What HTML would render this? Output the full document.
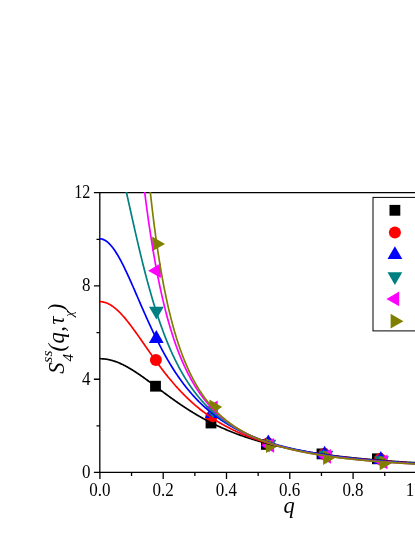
<!DOCTYPE html>
<html><head><meta charset="utf-8"><title>S4 plot</title>
<style>
html,body{margin:0;padding:0;background:#fff;}
body{width:415px;height:537px;overflow:hidden;}
svg{display:block;}
text{font-family:"Liberation Serif",serif;fill:#000;}
.tk{font-size:17px;}
.it{font-style:italic;}
</style></head><body>
<svg width="415" height="537" viewBox="0 0 415 537">
<rect width="415" height="537" fill="#fff"/>
<defs><clipPath id="pc"><rect x="99.6" y="192.1" width="320" height="280.4"/></clipPath></defs>

<path d="M99.80,192.7 V472.5 M93.9,472.35 H416 M93.9,192.7 H416 M93.9,379.23 H99.9 M93.9,285.97 H99.9 M96.5,425.87 H99.9 M96.5,332.60 H99.9 M96.5,239.33 H99.9 M99.90,472.5 V478.9 M131.55,472.5 V476.0 M163.20,472.5 V478.9 M194.85,472.5 V476.0 M226.50,472.5 V478.9 M258.15,472.5 V476.0 M289.80,472.5 V478.9 M321.45,472.5 V476.0 M353.10,472.5 V478.9 M384.75,472.5 V476.0 M416.40,472.5 V478.9" fill="none" stroke="#000" stroke-width="1.3"/>
<g clip-path="url(#pc)">
<rect x="150.10" y="380.80" width="10.8" height="10.8" fill="#000000"/>
<rect x="205.60" y="417.60" width="10.8" height="10.8" fill="#000000"/>
<rect x="261.00" y="439.00" width="10.8" height="10.8" fill="#000000"/>
<rect x="316.60" y="448.50" width="10.8" height="10.8" fill="#000000"/>
<rect x="372.00" y="453.40" width="10.8" height="10.8" fill="#000000"/>
<circle cx="155.90" cy="360.10" r="6.0" fill="#ff0000"/>
<circle cx="211.30" cy="416.80" r="6.0" fill="#ff0000"/>
<circle cx="268.00" cy="443.30" r="6.0" fill="#ff0000"/>
<circle cx="324.20" cy="454.00" r="6.0" fill="#ff0000"/>
<circle cx="380.20" cy="459.00" r="6.0" fill="#ff0000"/>
<polygon points="156.30,330.10 148.90,342.90 163.70,342.90" fill="#0000ff"/>
<polygon points="212.30,405.20 204.90,418.00 219.70,418.00" fill="#0000ff"/>
<polygon points="268.30,434.50 260.90,447.30 275.70,447.30" fill="#0000ff"/>
<polygon points="324.60,445.70 317.20,458.50 332.00,458.50" fill="#0000ff"/>
<polygon points="380.80,451.10 373.40,463.90 388.20,463.90" fill="#0000ff"/>
<polygon points="156.40,319.50 149.00,306.70 163.80,306.70" fill="#008080"/>
<polygon points="212.90,419.00 205.50,406.20 220.30,406.20" fill="#008080"/>
<polygon points="269.00,452.50 261.60,439.70 276.40,439.70" fill="#008080"/>
<polygon points="326.10,463.50 318.70,450.70 333.50,450.70" fill="#008080"/>
<polygon points="381.60,469.00 374.20,456.20 389.00,456.20" fill="#008080"/>
<polygon points="148.10,270.70 160.90,263.30 160.90,278.10" fill="#ff00ff"/>
<polygon points="204.90,408.00 217.70,400.60 217.70,415.40" fill="#ff00ff"/>
<polygon points="261.30,445.40 274.10,438.00 274.10,452.80" fill="#ff00ff"/>
<polygon points="318.20,456.30 331.00,448.90 331.00,463.70" fill="#ff00ff"/>
<polygon points="374.70,461.90 387.50,454.50 387.50,469.30" fill="#ff00ff"/>
<polygon points="165.00,243.90 152.20,236.50 152.20,251.30" fill="#808000"/>
<polygon points="222.20,406.90 209.40,399.50 209.40,414.30" fill="#808000"/>
<polygon points="278.80,445.60 266.00,438.20 266.00,453.00" fill="#808000"/>
<polygon points="335.90,457.50 323.10,450.10 323.10,464.90" fill="#808000"/>
<polygon points="392.50,462.80 379.70,455.40 379.70,470.20" fill="#808000"/>
<path d="M99.70,358.71 L100.34,358.72 L100.97,358.73 L101.61,358.76 L102.24,358.79 L102.88,358.83 L103.51,358.88 L104.15,358.95 L104.78,359.02 L105.42,359.10 L106.05,359.19 L106.69,359.28 L107.32,359.39 L107.96,359.51 L108.59,359.63 L109.23,359.77 L109.86,359.91 L110.50,360.06 L111.13,360.23 L111.77,360.40 L112.41,360.57 L113.04,360.76 L113.68,360.96 L114.31,361.16 L114.95,361.37 L115.58,361.59 L116.22,361.82 L116.85,362.06 L117.49,362.30 L118.12,362.55 L118.76,362.81 L119.39,363.08 L120.03,363.36 L120.66,363.64 L121.30,363.93 L121.93,364.22 L122.57,364.53 L123.21,364.84 L123.84,365.15 L124.48,365.48 L125.11,365.81 L125.75,366.14 L126.38,366.48 L127.02,366.83 L127.65,367.18 L128.29,367.54 L128.92,367.91 L129.56,368.28 L130.19,368.65 L130.83,369.03 L131.46,369.42 L132.10,369.81 L132.73,370.21 L133.37,370.61 L134.00,371.01 L134.64,371.42 L135.28,371.83 L135.91,372.25 L136.55,372.67 L137.18,373.09 L137.82,373.52 L138.45,373.95 L139.09,374.39 L139.72,374.82 L140.36,375.26 L140.99,375.71 L141.63,376.15 L142.26,376.60 L142.90,377.05 L143.53,377.51 L144.17,377.97 L144.80,378.42 L145.44,378.88 L146.07,379.35 L146.71,379.81 L147.35,380.28 L147.98,380.74 L148.62,381.21 L149.25,381.68 L149.89,382.15 L150.52,382.62 L151.16,383.10 L151.79,383.57 L152.43,384.05 L153.06,384.52 L153.70,385.00 L154.33,385.47 L154.97,385.95 L155.60,386.43 L156.24,386.90 L156.87,387.38 L157.51,387.86 L158.14,388.34 L158.78,388.81 L159.42,389.29 L160.05,389.76 L160.69,390.24 L161.32,390.72 L161.96,391.19 L162.59,391.66 L163.23,392.14 L163.86,392.61 L164.50,393.08 L165.13,393.55 L165.77,394.02 L166.40,394.49 L167.04,394.96 L167.67,395.42 L168.31,395.89 L168.94,396.35 L169.58,396.82 L170.22,397.28 L170.85,397.74 L171.49,398.19 L172.12,398.65 L172.76,399.10 L173.39,399.56 L174.03,400.01 L174.66,400.46 L175.30,400.91 L175.93,401.35 L176.57,401.80 L177.20,402.24 L177.84,402.68 L178.47,403.12 L179.11,403.56 L179.74,403.99 L180.38,404.42 L181.01,404.85 L181.65,405.28 L182.29,405.71 L182.92,406.13 L183.56,406.56 L184.19,406.98 L184.83,407.39 L185.46,407.81 L186.10,408.22 L186.73,408.64 L187.37,409.04 L188.00,409.45 L188.64,409.86 L189.27,410.26 L189.91,410.66 L190.54,411.06 L191.18,411.45 L191.81,411.84 L192.45,412.24 L193.08,412.62 L193.72,413.01 L194.36,413.39 L194.99,413.78 L195.63,414.15 L196.26,414.53 L196.90,414.91 L197.53,415.28 L198.17,415.65 L198.80,416.01 L199.44,416.38 L200.07,416.74 L200.71,417.10 L201.34,417.46 L201.98,417.81 L202.61,418.17 L203.25,418.52 L203.88,418.87 L204.52,419.21 L205.15,419.56 L205.79,419.90 L206.43,420.24 L207.06,420.57 L207.70,420.91 L208.33,421.24 L208.97,421.57 L209.60,421.90 L210.24,422.22 L210.87,422.55 L211.51,422.87 L212.14,423.18 L212.78,423.50 L213.41,423.81 L214.05,424.13 L214.68,424.44 L215.32,424.74 L215.95,425.05 L216.59,425.35 L217.23,425.65 L217.86,425.95 L218.50,426.25 L219.13,426.54 L219.77,426.83 L220.40,427.12 L221.04,427.41 L221.67,427.70 L222.31,427.98 L222.94,428.26 L223.58,428.54 L224.21,428.82 L224.85,429.09 L225.48,429.37 L226.12,429.64 L226.75,429.91 L227.39,430.17 L228.02,430.44 L228.66,430.70 L229.30,430.96 L229.93,431.22 L230.57,431.48 L231.20,431.73 L231.84,431.99 L232.47,432.24 L233.11,432.49 L233.74,432.74 L234.38,432.98 L235.01,433.23 L235.65,433.47 L236.28,433.71 L236.92,433.95 L237.55,434.18 L238.19,434.42 L238.82,434.65 L239.46,434.88 L240.09,435.11 L240.73,435.34 L241.37,435.57 L242.00,435.79 L242.64,436.02 L243.27,436.24 L243.91,436.46 L244.54,436.67 L245.18,436.89 L245.81,437.11 L246.45,437.32 L247.08,437.53 L247.72,437.74 L248.35,437.95 L248.99,438.15 L249.62,438.36 L250.26,438.56 L250.89,438.76 L251.53,438.97 L252.16,439.16 L252.80,439.36 L253.44,439.56 L254.07,439.75 L254.71,439.94 L255.34,440.14 L255.98,440.33 L256.61,440.52 L257.25,440.70 L257.88,440.89 L258.52,441.07 L259.15,441.26 L259.79,441.44 L260.42,441.62 L261.06,441.80 L261.69,441.97 L262.33,442.15 L262.96,442.33 L263.60,442.50 L264.24,442.67 L264.87,442.84 L265.51,443.01 L266.14,443.18 L266.78,443.35 L267.41,443.51 L268.05,443.68 L268.68,443.84 L269.32,444.00 L269.95,444.17 L270.59,444.33 L271.22,444.48 L271.86,444.64 L272.49,444.80 L273.13,444.95 L273.76,445.11 L274.40,445.26 L275.03,445.41 L275.67,445.56 L276.31,445.71 L276.94,445.86 L277.58,446.01 L278.21,446.16 L278.85,446.30 L279.48,446.45 L280.12,446.59 L280.75,446.73 L281.39,446.87 L282.02,447.01 L282.66,447.15 L283.29,447.29 L283.93,447.43 L284.56,447.56 L285.20,447.70 L285.83,447.83 L286.47,447.96 L287.10,448.10 L287.74,448.23 L288.38,448.36 L289.01,448.49 L289.65,448.62 L290.28,448.74 L290.92,448.87 L291.55,449.00 L292.19,449.12 L292.82,449.24 L293.46,449.37 L294.09,449.49 L294.73,449.61 L295.36,449.73 L296.00,449.85 L296.63,449.97 L297.27,450.09 L297.90,450.20 L298.54,450.32 L299.17,450.44 L299.81,450.55 L300.45,450.66 L301.08,450.78 L301.72,450.89 L302.35,451.00 L302.99,451.11 L303.62,451.22 L304.26,451.33 L304.89,451.44 L305.53,451.55 L306.16,451.65 L306.80,451.76 L307.43,451.86 L308.07,451.97 L308.70,452.07 L309.34,452.18 L309.97,452.28 L310.61,452.38 L311.25,452.48 L311.88,452.58 L312.52,452.68 L313.15,452.78 L313.79,452.88 L314.42,452.98 L315.06,453.07 L315.69,453.17 L316.33,453.27 L316.96,453.36 L317.60,453.46 L318.23,453.55 L318.87,453.64 L319.50,453.74 L320.14,453.83 L320.77,453.92 L321.41,454.01 L322.04,454.10 L322.68,454.19 L323.32,454.28 L323.95,454.37 L324.59,454.45 L325.22,454.54 L325.86,454.63 L326.49,454.71 L327.13,454.80 L327.76,454.88 L328.40,454.97 L329.03,455.05 L329.67,455.13 L330.30,455.22 L330.94,455.30 L331.57,455.38 L332.21,455.46 L332.84,455.54 L333.48,455.62 L334.11,455.70 L334.75,455.78 L335.39,455.86 L336.02,455.94 L336.66,456.01 L337.29,456.09 L337.93,456.17 L338.56,456.24 L339.20,456.32 L339.83,456.39 L340.47,456.47 L341.10,456.54 L341.74,456.62 L342.37,456.69 L343.01,456.76 L343.64,456.83 L344.28,456.91 L344.91,456.98 L345.55,457.05 L346.18,457.12 L346.82,457.19 L347.46,457.26 L348.09,457.33 L348.73,457.40 L349.36,457.46 L350.00,457.53 L350.63,457.60 L351.27,457.67 L351.90,457.73 L352.54,457.80 L353.17,457.86 L353.81,457.93 L354.44,457.99 L355.08,458.06 L355.71,458.12 L356.35,458.19 L356.98,458.25 L357.62,458.31 L358.26,458.38 L358.89,458.44 L359.53,458.50 L360.16,458.56 L360.80,458.62 L361.43,458.68 L362.07,458.74 L362.70,458.80 L363.34,458.86 L363.97,458.92 L364.61,458.98 L365.24,459.04 L365.88,459.10 L366.51,459.15 L367.15,459.21 L367.78,459.27 L368.42,459.33 L369.05,459.38 L369.69,459.44 L370.33,459.49 L370.96,459.55 L371.60,459.60 L372.23,459.66 L372.87,459.71 L373.50,459.77 L374.14,459.82 L374.77,459.87 L375.41,459.93 L376.04,459.98 L376.68,460.03 L377.31,460.09 L377.95,460.14 L378.58,460.19 L379.22,460.24 L379.85,460.29 L380.49,460.34 L381.12,460.39 L381.76,460.44 L382.40,460.49 L383.03,460.54 L383.67,460.59 L384.30,460.64 L384.94,460.69 L385.57,460.74 L386.21,460.79 L386.84,460.83 L387.48,460.88 L388.11,460.93 L388.75,460.98 L389.38,461.02 L390.02,461.07 L390.65,461.12 L391.29,461.16 L391.92,461.21 L392.56,461.25 L393.19,461.30 L393.83,461.34 L394.47,461.39 L395.10,461.43 L395.74,461.48 L396.37,461.52 L397.01,461.56 L397.64,461.61 L398.28,461.65 L398.91,461.69 L399.55,461.74 L400.18,461.78 L400.82,461.82 L401.45,461.86 L402.09,461.91 L402.72,461.95 L403.36,461.99 L403.99,462.03 L404.63,462.07 L405.27,462.11 L405.90,462.15 L406.54,462.19 L407.17,462.23 L407.81,462.27 L408.44,462.31 L409.08,462.35 L409.71,462.39 L410.35,462.43 L410.98,462.47 L411.62,462.51 L412.25,462.54 L412.89,462.58 L413.52,462.62 L414.16,462.66 L414.79,462.70 L415.43,462.73 L416.06,462.77 L416.70,462.81" fill="none" stroke="#000000" stroke-width="1.7" stroke-linejoin="round"/>
<path d="M99.70,301.66 L100.34,301.67 L100.97,301.71 L101.61,301.76 L102.24,301.84 L102.88,301.95 L103.51,302.08 L104.15,302.23 L104.78,302.40 L105.42,302.59 L106.05,302.81 L106.69,303.05 L107.32,303.31 L107.96,303.60 L108.59,303.90 L109.23,304.23 L109.86,304.58 L110.50,304.95 L111.13,305.33 L111.77,305.74 L112.41,306.17 L113.04,306.62 L113.68,307.09 L114.31,307.58 L114.95,308.09 L115.58,308.61 L116.22,309.15 L116.85,309.71 L117.49,310.29 L118.12,310.88 L118.76,311.49 L119.39,312.12 L120.03,312.76 L120.66,313.42 L121.30,314.09 L121.93,314.77 L122.57,315.47 L123.21,316.19 L123.84,316.91 L124.48,317.65 L125.11,318.40 L125.75,319.16 L126.38,319.93 L127.02,320.71 L127.65,321.50 L128.29,322.31 L128.92,323.12 L129.56,323.94 L130.19,324.77 L130.83,325.60 L131.46,326.45 L132.10,327.30 L132.73,328.16 L133.37,329.02 L134.00,329.89 L134.64,330.77 L135.28,331.65 L135.91,332.54 L136.55,333.43 L137.18,334.32 L137.82,335.22 L138.45,336.12 L139.09,337.02 L139.72,337.93 L140.36,338.84 L140.99,339.75 L141.63,340.66 L142.26,341.57 L142.90,342.49 L143.53,343.40 L144.17,344.32 L144.80,345.23 L145.44,346.15 L146.07,347.06 L146.71,347.98 L147.35,348.89 L147.98,349.80 L148.62,350.71 L149.25,351.62 L149.89,352.52 L150.52,353.43 L151.16,354.33 L151.79,355.23 L152.43,356.13 L153.06,357.02 L153.70,357.91 L154.33,358.80 L154.97,359.68 L155.60,360.56 L156.24,361.44 L156.87,362.31 L157.51,363.18 L158.14,364.04 L158.78,364.90 L159.42,365.76 L160.05,366.61 L160.69,367.45 L161.32,368.29 L161.96,369.13 L162.59,369.96 L163.23,370.79 L163.86,371.61 L164.50,372.43 L165.13,373.24 L165.77,374.05 L166.40,374.85 L167.04,375.64 L167.67,376.43 L168.31,377.22 L168.94,377.99 L169.58,378.77 L170.22,379.54 L170.85,380.30 L171.49,381.05 L172.12,381.80 L172.76,382.55 L173.39,383.29 L174.03,384.02 L174.66,384.75 L175.30,385.47 L175.93,386.19 L176.57,386.90 L177.20,387.60 L177.84,388.30 L178.47,388.99 L179.11,389.68 L179.74,390.36 L180.38,391.04 L181.01,391.71 L181.65,392.37 L182.29,393.03 L182.92,393.68 L183.56,394.33 L184.19,394.97 L184.83,395.61 L185.46,396.24 L186.10,396.86 L186.73,397.48 L187.37,398.09 L188.00,398.70 L188.64,399.30 L189.27,399.90 L189.91,400.49 L190.54,401.08 L191.18,401.66 L191.81,402.23 L192.45,402.80 L193.08,403.37 L193.72,403.92 L194.36,404.48 L194.99,405.03 L195.63,405.57 L196.26,406.11 L196.90,406.64 L197.53,407.17 L198.17,407.69 L198.80,408.21 L199.44,408.73 L200.07,409.23 L200.71,409.74 L201.34,410.24 L201.98,410.73 L202.61,411.22 L203.25,411.70 L203.88,412.18 L204.52,412.66 L205.15,413.13 L205.79,413.60 L206.43,414.06 L207.06,414.52 L207.70,414.97 L208.33,415.42 L208.97,415.86 L209.60,416.30 L210.24,416.74 L210.87,417.17 L211.51,417.60 L212.14,418.02 L212.78,418.44 L213.41,418.85 L214.05,419.26 L214.68,419.67 L215.32,420.08 L215.95,420.47 L216.59,420.87 L217.23,421.26 L217.86,421.65 L218.50,422.03 L219.13,422.41 L219.77,422.79 L220.40,423.16 L221.04,423.53 L221.67,423.90 L222.31,424.26 L222.94,424.62 L223.58,424.98 L224.21,425.33 L224.85,425.68 L225.48,426.02 L226.12,426.36 L226.75,426.70 L227.39,427.04 L228.02,427.37 L228.66,427.70 L229.30,428.03 L229.93,428.35 L230.57,428.67 L231.20,428.98 L231.84,429.30 L232.47,429.61 L233.11,429.92 L233.74,430.22 L234.38,430.52 L235.01,430.82 L235.65,431.12 L236.28,431.41 L236.92,431.70 L237.55,431.99 L238.19,432.28 L238.82,432.56 L239.46,432.84 L240.09,433.12 L240.73,433.39 L241.37,433.66 L242.00,433.93 L242.64,434.20 L243.27,434.47 L243.91,434.73 L244.54,434.99 L245.18,435.25 L245.81,435.50 L246.45,435.75 L247.08,436.00 L247.72,436.25 L248.35,436.50 L248.99,436.74 L249.62,436.98 L250.26,437.22 L250.89,437.46 L251.53,437.69 L252.16,437.93 L252.80,438.16 L253.44,438.39 L254.07,438.61 L254.71,438.84 L255.34,439.06 L255.98,439.28 L256.61,439.50 L257.25,439.72 L257.88,439.93 L258.52,440.14 L259.15,440.35 L259.79,440.56 L260.42,440.77 L261.06,440.97 L261.69,441.18 L262.33,441.38 L262.96,441.58 L263.60,441.78 L264.24,441.97 L264.87,442.17 L265.51,442.36 L266.14,442.55 L266.78,442.74 L267.41,442.93 L268.05,443.12 L268.68,443.30 L269.32,443.48 L269.95,443.66 L270.59,443.84 L271.22,444.02 L271.86,444.20 L272.49,444.37 L273.13,444.55 L273.76,444.72 L274.40,444.89 L275.03,445.06 L275.67,445.23 L276.31,445.40 L276.94,445.56 L277.58,445.72 L278.21,445.89 L278.85,446.05 L279.48,446.21 L280.12,446.37 L280.75,446.52 L281.39,446.68 L282.02,446.83 L282.66,446.99 L283.29,447.14 L283.93,447.29 L284.56,447.44 L285.20,447.59 L285.83,447.73 L286.47,447.88 L287.10,448.02 L287.74,448.17 L288.38,448.31 L289.01,448.45 L289.65,448.59 L290.28,448.73 L290.92,448.87 L291.55,449.00 L292.19,449.14 L292.82,449.27 L293.46,449.41 L294.09,449.54 L294.73,449.67 L295.36,449.80 L296.00,449.93 L296.63,450.06 L297.27,450.18 L297.90,450.31 L298.54,450.43 L299.17,450.56 L299.81,450.68 L300.45,450.80 L301.08,450.92 L301.72,451.04 L302.35,451.16 L302.99,451.28 L303.62,451.40 L304.26,451.52 L304.89,451.63 L305.53,451.75 L306.16,451.86 L306.80,451.97 L307.43,452.08 L308.07,452.20 L308.70,452.31 L309.34,452.42 L309.97,452.52 L310.61,452.63 L311.25,452.74 L311.88,452.84 L312.52,452.95 L313.15,453.05 L313.79,453.16 L314.42,453.26 L315.06,453.36 L315.69,453.47 L316.33,453.57 L316.96,453.67 L317.60,453.77 L318.23,453.86 L318.87,453.96 L319.50,454.06 L320.14,454.15 L320.77,454.25 L321.41,454.35 L322.04,454.44 L322.68,454.53 L323.32,454.63 L323.95,454.72 L324.59,454.81 L325.22,454.90 L325.86,454.99 L326.49,455.08 L327.13,455.17 L327.76,455.26 L328.40,455.34 L329.03,455.43 L329.67,455.52 L330.30,455.60 L330.94,455.69 L331.57,455.77 L332.21,455.86 L332.84,455.94 L333.48,456.02 L334.11,456.11 L334.75,456.19 L335.39,456.27 L336.02,456.35 L336.66,456.43 L337.29,456.51 L337.93,456.59 L338.56,456.66 L339.20,456.74 L339.83,456.82 L340.47,456.90 L341.10,456.97 L341.74,457.05 L342.37,457.12 L343.01,457.20 L343.64,457.27 L344.28,457.34 L344.91,457.42 L345.55,457.49 L346.18,457.56 L346.82,457.63 L347.46,457.70 L348.09,457.78 L348.73,457.85 L349.36,457.91 L350.00,457.98 L350.63,458.05 L351.27,458.12 L351.90,458.19 L352.54,458.26 L353.17,458.32 L353.81,458.39 L354.44,458.46 L355.08,458.52 L355.71,458.59 L356.35,458.65 L356.98,458.71 L357.62,458.78 L358.26,458.84 L358.89,458.90 L359.53,458.97 L360.16,459.03 L360.80,459.09 L361.43,459.15 L362.07,459.21 L362.70,459.27 L363.34,459.33 L363.97,459.39 L364.61,459.45 L365.24,459.51 L365.88,459.57 L366.51,459.63 L367.15,459.69 L367.78,459.74 L368.42,459.80 L369.05,459.86 L369.69,459.91 L370.33,459.97 L370.96,460.03 L371.60,460.08 L372.23,460.14 L372.87,460.19 L373.50,460.25 L374.14,460.30 L374.77,460.35 L375.41,460.41 L376.04,460.46 L376.68,460.51 L377.31,460.56 L377.95,460.62 L378.58,460.67 L379.22,460.72 L379.85,460.77 L380.49,460.82 L381.12,460.87 L381.76,460.92 L382.40,460.97 L383.03,461.02 L383.67,461.07 L384.30,461.12 L384.94,461.17 L385.57,461.22 L386.21,461.26 L386.84,461.31 L387.48,461.36 L388.11,461.41 L388.75,461.45 L389.38,461.50 L390.02,461.55 L390.65,461.59 L391.29,461.64 L391.92,461.68 L392.56,461.73 L393.19,461.77 L393.83,461.82 L394.47,461.86 L395.10,461.91 L395.74,461.95 L396.37,461.99 L397.01,462.04 L397.64,462.08 L398.28,462.12 L398.91,462.17 L399.55,462.21 L400.18,462.25 L400.82,462.29 L401.45,462.33 L402.09,462.38 L402.72,462.42 L403.36,462.46 L403.99,462.50 L404.63,462.54 L405.27,462.58 L405.90,462.62 L406.54,462.66 L407.17,462.70 L407.81,462.74 L408.44,462.78 L409.08,462.82 L409.71,462.85 L410.35,462.89 L410.98,462.93 L411.62,462.97 L412.25,463.01 L412.89,463.04 L413.52,463.08 L414.16,463.12 L414.79,463.16 L415.43,463.19 L416.06,463.23 L416.70,463.27" fill="none" stroke="#ff0000" stroke-width="1.7" stroke-linejoin="round"/>
<path d="M99.70,238.82 L100.34,238.84 L100.97,238.91 L101.61,239.02 L102.24,239.17 L102.88,239.37 L103.51,239.60 L104.15,239.89 L104.78,240.21 L105.42,240.58 L106.05,240.99 L106.69,241.44 L107.32,241.93 L107.96,242.46 L108.59,243.03 L109.23,243.64 L109.86,244.29 L110.50,244.97 L111.13,245.70 L111.77,246.46 L112.41,247.25 L113.04,248.08 L113.68,248.95 L114.31,249.84 L114.95,250.77 L115.58,251.73 L116.22,252.72 L116.85,253.75 L117.49,254.79 L118.12,255.87 L118.76,256.98 L119.39,258.10 L120.03,259.26 L120.66,260.44 L121.30,261.64 L121.93,262.86 L122.57,264.10 L123.21,265.36 L123.84,266.65 L124.48,267.95 L125.11,269.26 L125.75,270.59 L126.38,271.94 L127.02,273.30 L127.65,274.68 L128.29,276.06 L128.92,277.46 L129.56,278.87 L130.19,280.29 L130.83,281.71 L131.46,283.15 L132.10,284.59 L132.73,286.03 L133.37,287.49 L134.00,288.94 L134.64,290.40 L135.28,291.87 L135.91,293.34 L136.55,294.80 L137.18,296.27 L137.82,297.74 L138.45,299.21 L139.09,300.68 L139.72,302.15 L140.36,303.62 L140.99,305.08 L141.63,306.54 L142.26,308.00 L142.90,309.45 L143.53,310.90 L144.17,312.35 L144.80,313.78 L145.44,315.22 L146.07,316.65 L146.71,318.07 L147.35,319.48 L147.98,320.89 L148.62,322.29 L149.25,323.68 L149.89,325.06 L150.52,326.44 L151.16,327.80 L151.79,329.16 L152.43,330.51 L153.06,331.85 L153.70,333.18 L154.33,334.51 L154.97,335.82 L155.60,337.12 L156.24,338.41 L156.87,339.69 L157.51,340.96 L158.14,342.23 L158.78,343.48 L159.42,344.72 L160.05,345.95 L160.69,347.16 L161.32,348.37 L161.96,349.57 L162.59,350.76 L163.23,351.93 L163.86,353.10 L164.50,354.25 L165.13,355.39 L165.77,356.53 L166.40,357.65 L167.04,358.76 L167.67,359.86 L168.31,360.94 L168.94,362.02 L169.58,363.09 L170.22,364.14 L170.85,365.19 L171.49,366.22 L172.12,367.25 L172.76,368.26 L173.39,369.26 L174.03,370.25 L174.66,371.24 L175.30,372.21 L175.93,373.17 L176.57,374.12 L177.20,375.06 L177.84,375.99 L178.47,376.91 L179.11,377.82 L179.74,378.72 L180.38,379.61 L181.01,380.49 L181.65,381.36 L182.29,382.22 L182.92,383.07 L183.56,383.91 L184.19,384.74 L184.83,385.57 L185.46,386.38 L186.10,387.18 L186.73,387.98 L187.37,388.77 L188.00,389.55 L188.64,390.32 L189.27,391.08 L189.91,391.83 L190.54,392.57 L191.18,393.31 L191.81,394.03 L192.45,394.75 L193.08,395.46 L193.72,396.17 L194.36,396.86 L194.99,397.55 L195.63,398.23 L196.26,398.90 L196.90,399.56 L197.53,400.22 L198.17,400.86 L198.80,401.51 L199.44,402.14 L200.07,402.77 L200.71,403.39 L201.34,404.00 L201.98,404.61 L202.61,405.20 L203.25,405.80 L203.88,406.38 L204.52,406.96 L205.15,407.53 L205.79,408.10 L206.43,408.66 L207.06,409.21 L207.70,409.76 L208.33,410.30 L208.97,410.83 L209.60,411.36 L210.24,411.89 L210.87,412.40 L211.51,412.91 L212.14,413.42 L212.78,413.92 L213.41,414.41 L214.05,414.90 L214.68,415.39 L215.32,415.87 L215.95,416.34 L216.59,416.81 L217.23,417.27 L217.86,417.73 L218.50,418.18 L219.13,418.63 L219.77,419.07 L220.40,419.51 L221.04,419.94 L221.67,420.37 L222.31,420.79 L222.94,421.21 L223.58,421.62 L224.21,422.03 L224.85,422.44 L225.48,422.84 L226.12,423.24 L226.75,423.63 L227.39,424.02 L228.02,424.40 L228.66,424.78 L229.30,425.16 L229.93,425.53 L230.57,425.90 L231.20,426.26 L231.84,426.62 L232.47,426.98 L233.11,427.33 L233.74,427.68 L234.38,428.03 L235.01,428.37 L235.65,428.71 L236.28,429.04 L236.92,429.37 L237.55,429.70 L238.19,430.03 L238.82,430.35 L239.46,430.66 L240.09,430.98 L240.73,431.29 L241.37,431.60 L242.00,431.90 L242.64,432.20 L243.27,432.50 L243.91,432.80 L244.54,433.09 L245.18,433.38 L245.81,433.67 L246.45,433.95 L247.08,434.23 L247.72,434.51 L248.35,434.79 L248.99,435.06 L249.62,435.33 L250.26,435.60 L250.89,435.86 L251.53,436.12 L252.16,436.38 L252.80,436.64 L253.44,436.89 L254.07,437.15 L254.71,437.40 L255.34,437.64 L255.98,437.89 L256.61,438.13 L257.25,438.37 L257.88,438.61 L258.52,438.84 L259.15,439.08 L259.79,439.31 L260.42,439.53 L261.06,439.76 L261.69,439.99 L262.33,440.21 L262.96,440.43 L263.60,440.65 L264.24,440.86 L264.87,441.08 L265.51,441.29 L266.14,441.50 L266.78,441.70 L267.41,441.91 L268.05,442.11 L268.68,442.32 L269.32,442.52 L269.95,442.72 L270.59,442.91 L271.22,443.11 L271.86,443.30 L272.49,443.49 L273.13,443.68 L273.76,443.87 L274.40,444.05 L275.03,444.24 L275.67,444.42 L276.31,444.60 L276.94,444.78 L277.58,444.96 L278.21,445.14 L278.85,445.31 L279.48,445.48 L280.12,445.65 L280.75,445.82 L281.39,445.99 L282.02,446.16 L282.66,446.33 L283.29,446.49 L283.93,446.65 L284.56,446.81 L285.20,446.97 L285.83,447.13 L286.47,447.29 L287.10,447.44 L287.74,447.60 L288.38,447.75 L289.01,447.90 L289.65,448.05 L290.28,448.20 L290.92,448.35 L291.55,448.50 L292.19,448.64 L292.82,448.79 L293.46,448.93 L294.09,449.07 L294.73,449.21 L295.36,449.35 L296.00,449.49 L296.63,449.63 L297.27,449.76 L297.90,449.90 L298.54,450.03 L299.17,450.16 L299.81,450.29 L300.45,450.42 L301.08,450.55 L301.72,450.68 L302.35,450.81 L302.99,450.93 L303.62,451.06 L304.26,451.18 L304.89,451.31 L305.53,451.43 L306.16,451.55 L306.80,451.67 L307.43,451.79 L308.07,451.91 L308.70,452.02 L309.34,452.14 L309.97,452.25 L310.61,452.37 L311.25,452.48 L311.88,452.60 L312.52,452.71 L313.15,452.82 L313.79,452.93 L314.42,453.04 L315.06,453.14 L315.69,453.25 L316.33,453.36 L316.96,453.46 L317.60,453.57 L318.23,453.67 L318.87,453.78 L319.50,453.88 L320.14,453.98 L320.77,454.08 L321.41,454.18 L322.04,454.28 L322.68,454.38 L323.32,454.48 L323.95,454.57 L324.59,454.67 L325.22,454.77 L325.86,454.86 L326.49,454.96 L327.13,455.05 L327.76,455.14 L328.40,455.23 L329.03,455.32 L329.67,455.42 L330.30,455.51 L330.94,455.59 L331.57,455.68 L332.21,455.77 L332.84,455.86 L333.48,455.95 L334.11,456.03 L334.75,456.12 L335.39,456.20 L336.02,456.29 L336.66,456.37 L337.29,456.45 L337.93,456.54 L338.56,456.62 L339.20,456.70 L339.83,456.78 L340.47,456.86 L341.10,456.94 L341.74,457.02 L342.37,457.10 L343.01,457.17 L343.64,457.25 L344.28,457.33 L344.91,457.40 L345.55,457.48 L346.18,457.55 L346.82,457.63 L347.46,457.70 L348.09,457.78 L348.73,457.85 L349.36,457.92 L350.00,457.99 L350.63,458.07 L351.27,458.14 L351.90,458.21 L352.54,458.28 L353.17,458.35 L353.81,458.42 L354.44,458.48 L355.08,458.55 L355.71,458.62 L356.35,458.69 L356.98,458.75 L357.62,458.82 L358.26,458.89 L358.89,458.95 L359.53,459.02 L360.16,459.08 L360.80,459.14 L361.43,459.21 L362.07,459.27 L362.70,459.33 L363.34,459.40 L363.97,459.46 L364.61,459.52 L365.24,459.58 L365.88,459.64 L366.51,459.70 L367.15,459.76 L367.78,459.82 L368.42,459.88 L369.05,459.94 L369.69,460.00 L370.33,460.06 L370.96,460.11 L371.60,460.17 L372.23,460.23 L372.87,460.28 L373.50,460.34 L374.14,460.40 L374.77,460.45 L375.41,460.51 L376.04,460.56 L376.68,460.62 L377.31,460.67 L377.95,460.72 L378.58,460.78 L379.22,460.83 L379.85,460.88 L380.49,460.93 L381.12,460.99 L381.76,461.04 L382.40,461.09 L383.03,461.14 L383.67,461.19 L384.30,461.24 L384.94,461.29 L385.57,461.34 L386.21,461.39 L386.84,461.44 L387.48,461.49 L388.11,461.54 L388.75,461.58 L389.38,461.63 L390.02,461.68 L390.65,461.73 L391.29,461.77 L391.92,461.82 L392.56,461.87 L393.19,461.91 L393.83,461.96 L394.47,462.01 L395.10,462.05 L395.74,462.10 L396.37,462.14 L397.01,462.19 L397.64,462.23 L398.28,462.27 L398.91,462.32 L399.55,462.36 L400.18,462.40 L400.82,462.45 L401.45,462.49 L402.09,462.53 L402.72,462.57 L403.36,462.62 L403.99,462.66 L404.63,462.70 L405.27,462.74 L405.90,462.78 L406.54,462.82 L407.17,462.86 L407.81,462.90 L408.44,462.94 L409.08,462.98 L409.71,463.02 L410.35,463.06 L410.98,463.10 L411.62,463.14 L412.25,463.18 L412.89,463.22 L413.52,463.25 L414.16,463.29 L414.79,463.33 L415.43,463.37 L416.06,463.41 L416.70,463.44" fill="none" stroke="#0000ff" stroke-width="1.7" stroke-linejoin="round"/>
<path d="M99.70,116.69 L100.34,116.74 L100.97,116.90 L101.61,117.18 L102.24,117.55 L102.88,118.04 L103.51,118.63 L104.15,119.33 L104.78,120.13 L105.42,121.03 L106.05,122.04 L106.69,123.14 L107.32,124.34 L107.96,125.63 L108.59,127.02 L109.23,128.50 L109.86,130.07 L110.50,131.72 L111.13,133.45 L111.77,135.27 L112.41,137.16 L113.04,139.13 L113.68,141.16 L114.31,143.27 L114.95,145.44 L115.58,147.67 L116.22,149.97 L116.85,152.31 L117.49,154.71 L118.12,157.16 L118.76,159.66 L119.39,162.20 L120.03,164.78 L120.66,167.40 L121.30,170.05 L121.93,172.74 L122.57,175.45 L123.21,178.19 L123.84,180.95 L124.48,183.73 L125.11,186.53 L125.75,189.35 L126.38,192.17 L127.02,195.01 L127.65,197.86 L128.29,200.71 L128.92,203.56 L129.56,206.42 L130.19,209.27 L130.83,212.13 L131.46,214.98 L132.10,217.82 L132.73,220.66 L133.37,223.48 L134.00,226.30 L134.64,229.10 L135.28,231.89 L135.91,234.67 L136.55,237.43 L137.18,240.17 L137.82,242.90 L138.45,245.61 L139.09,248.29 L139.72,250.96 L140.36,253.61 L140.99,256.23 L141.63,258.83 L142.26,261.40 L142.90,263.96 L143.53,266.49 L144.17,268.99 L144.80,271.47 L145.44,273.92 L146.07,276.35 L146.71,278.75 L147.35,281.12 L147.98,283.47 L148.62,285.79 L149.25,288.08 L149.89,290.35 L150.52,292.59 L151.16,294.80 L151.79,296.98 L152.43,299.14 L153.06,301.27 L153.70,303.38 L154.33,305.45 L154.97,307.50 L155.60,309.53 L156.24,311.52 L156.87,313.49 L157.51,315.44 L158.14,317.36 L158.78,319.25 L159.42,321.11 L160.05,322.95 L160.69,324.77 L161.32,326.56 L161.96,328.32 L162.59,330.06 L163.23,331.78 L163.86,333.47 L164.50,335.14 L165.13,336.78 L165.77,338.41 L166.40,340.00 L167.04,341.58 L167.67,343.13 L168.31,344.66 L168.94,346.17 L169.58,347.66 L170.22,349.12 L170.85,350.57 L171.49,351.99 L172.12,353.40 L172.76,354.78 L173.39,356.14 L174.03,357.48 L174.66,358.81 L175.30,360.11 L175.93,361.40 L176.57,362.67 L177.20,363.91 L177.84,365.15 L178.47,366.36 L179.11,367.55 L179.74,368.73 L180.38,369.89 L181.01,371.04 L181.65,372.17 L182.29,373.28 L182.92,374.37 L183.56,375.45 L184.19,376.52 L184.83,377.57 L185.46,378.60 L186.10,379.62 L186.73,380.63 L187.37,381.62 L188.00,382.59 L188.64,383.56 L189.27,384.51 L189.91,385.44 L190.54,386.36 L191.18,387.27 L191.81,388.17 L192.45,389.05 L193.08,389.93 L193.72,390.79 L194.36,391.63 L194.99,392.47 L195.63,393.29 L196.26,394.11 L196.90,394.91 L197.53,395.70 L198.17,396.48 L198.80,397.25 L199.44,398.01 L200.07,398.75 L200.71,399.49 L201.34,400.22 L201.98,400.94 L202.61,401.65 L203.25,402.34 L203.88,403.03 L204.52,403.71 L205.15,404.38 L205.79,405.05 L206.43,405.70 L207.06,406.34 L207.70,406.98 L208.33,407.61 L208.97,408.23 L209.60,408.84 L210.24,409.44 L210.87,410.04 L211.51,410.62 L212.14,411.20 L212.78,411.78 L213.41,412.34 L214.05,412.90 L214.68,413.45 L215.32,413.99 L215.95,414.53 L216.59,415.06 L217.23,415.58 L217.86,416.10 L218.50,416.61 L219.13,417.11 L219.77,417.61 L220.40,418.10 L221.04,418.59 L221.67,419.06 L222.31,419.54 L222.94,420.00 L223.58,420.47 L224.21,420.92 L224.85,421.37 L225.48,421.82 L226.12,422.25 L226.75,422.69 L227.39,423.12 L228.02,423.54 L228.66,423.96 L229.30,424.37 L229.93,424.78 L230.57,425.18 L231.20,425.58 L231.84,425.98 L232.47,426.36 L233.11,426.75 L233.74,427.13 L234.38,427.50 L235.01,427.88 L235.65,428.24 L236.28,428.61 L236.92,428.96 L237.55,429.32 L238.19,429.67 L238.82,430.01 L239.46,430.36 L240.09,430.70 L240.73,431.03 L241.37,431.36 L242.00,431.69 L242.64,432.01 L243.27,432.33 L243.91,432.65 L244.54,432.96 L245.18,433.27 L245.81,433.57 L246.45,433.88 L247.08,434.18 L247.72,434.47 L248.35,434.76 L248.99,435.05 L249.62,435.34 L250.26,435.62 L250.89,435.90 L251.53,436.18 L252.16,436.45 L252.80,436.72 L253.44,436.99 L254.07,437.26 L254.71,437.52 L255.34,437.78 L255.98,438.04 L256.61,438.29 L257.25,438.54 L257.88,438.79 L258.52,439.04 L259.15,439.28 L259.79,439.52 L260.42,439.76 L261.06,440.00 L261.69,440.23 L262.33,440.46 L262.96,440.69 L263.60,440.92 L264.24,441.14 L264.87,441.36 L265.51,441.58 L266.14,441.80 L266.78,442.01 L267.41,442.23 L268.05,442.44 L268.68,442.65 L269.32,442.85 L269.95,443.06 L270.59,443.26 L271.22,443.46 L271.86,443.66 L272.49,443.86 L273.13,444.05 L273.76,444.25 L274.40,444.44 L275.03,444.63 L275.67,444.81 L276.31,445.00 L276.94,445.18 L277.58,445.37 L278.21,445.55 L278.85,445.73 L279.48,445.90 L280.12,446.08 L280.75,446.25 L281.39,446.42 L282.02,446.59 L282.66,446.76 L283.29,446.93 L283.93,447.09 L284.56,447.26 L285.20,447.42 L285.83,447.58 L286.47,447.74 L287.10,447.90 L287.74,448.06 L288.38,448.21 L289.01,448.37 L289.65,448.52 L290.28,448.67 L290.92,448.82 L291.55,448.97 L292.19,449.11 L292.82,449.26 L293.46,449.40 L294.09,449.55 L294.73,449.69 L295.36,449.83 L296.00,449.97 L296.63,450.11 L297.27,450.24 L297.90,450.38 L298.54,450.51 L299.17,450.65 L299.81,450.78 L300.45,450.91 L301.08,451.04 L301.72,451.17 L302.35,451.30 L302.99,451.42 L303.62,451.55 L304.26,451.67 L304.89,451.80 L305.53,451.92 L306.16,452.04 L306.80,452.16 L307.43,452.28 L308.07,452.40 L308.70,452.51 L309.34,452.63 L309.97,452.74 L310.61,452.86 L311.25,452.97 L311.88,453.08 L312.52,453.20 L313.15,453.31 L313.79,453.42 L314.42,453.52 L315.06,453.63 L315.69,453.74 L316.33,453.84 L316.96,453.95 L317.60,454.05 L318.23,454.16 L318.87,454.26 L319.50,454.36 L320.14,454.46 L320.77,454.56 L321.41,454.66 L322.04,454.76 L322.68,454.86 L323.32,454.96 L323.95,455.05 L324.59,455.15 L325.22,455.24 L325.86,455.34 L326.49,455.43 L327.13,455.52 L327.76,455.61 L328.40,455.70 L329.03,455.79 L329.67,455.88 L330.30,455.97 L330.94,456.06 L331.57,456.15 L332.21,456.24 L332.84,456.32 L333.48,456.41 L334.11,456.49 L334.75,456.58 L335.39,456.66 L336.02,456.74 L336.66,456.83 L337.29,456.91 L337.93,456.99 L338.56,457.07 L339.20,457.15 L339.83,457.23 L340.47,457.31 L341.10,457.39 L341.74,457.46 L342.37,457.54 L343.01,457.62 L343.64,457.69 L344.28,457.77 L344.91,457.84 L345.55,457.92 L346.18,457.99 L346.82,458.06 L347.46,458.14 L348.09,458.21 L348.73,458.28 L349.36,458.35 L350.00,458.42 L350.63,458.49 L351.27,458.56 L351.90,458.63 L352.54,458.70 L353.17,458.77 L353.81,458.83 L354.44,458.90 L355.08,458.97 L355.71,459.03 L356.35,459.10 L356.98,459.17 L357.62,459.23 L358.26,459.29 L358.89,459.36 L359.53,459.42 L360.16,459.48 L360.80,459.55 L361.43,459.61 L362.07,459.67 L362.70,459.73 L363.34,459.79 L363.97,459.85 L364.61,459.91 L365.24,459.97 L365.88,460.03 L366.51,460.09 L367.15,460.15 L367.78,460.21 L368.42,460.26 L369.05,460.32 L369.69,460.38 L370.33,460.44 L370.96,460.49 L371.60,460.55 L372.23,460.60 L372.87,460.66 L373.50,460.71 L374.14,460.77 L374.77,460.82 L375.41,460.87 L376.04,460.93 L376.68,460.98 L377.31,461.03 L377.95,461.08 L378.58,461.14 L379.22,461.19 L379.85,461.24 L380.49,461.29 L381.12,461.34 L381.76,461.39 L382.40,461.44 L383.03,461.49 L383.67,461.54 L384.30,461.59 L384.94,461.64 L385.57,461.68 L386.21,461.73 L386.84,461.78 L387.48,461.83 L388.11,461.87 L388.75,461.92 L389.38,461.97 L390.02,462.01 L390.65,462.06 L391.29,462.10 L391.92,462.15 L392.56,462.19 L393.19,462.24 L393.83,462.28 L394.47,462.33 L395.10,462.37 L395.74,462.41 L396.37,462.46 L397.01,462.50 L397.64,462.54 L398.28,462.59 L398.91,462.63 L399.55,462.67 L400.18,462.71 L400.82,462.75 L401.45,462.80 L402.09,462.84 L402.72,462.88 L403.36,462.92 L403.99,462.96 L404.63,463.00 L405.27,463.04 L405.90,463.08 L406.54,463.12 L407.17,463.16 L407.81,463.19 L408.44,463.23 L409.08,463.27 L409.71,463.31 L410.35,463.35 L410.98,463.39 L411.62,463.42 L412.25,463.46 L412.89,463.50 L413.52,463.53 L414.16,463.57 L414.79,463.61 L415.43,463.64 L416.06,463.68 L416.70,463.71" fill="none" stroke="#008080" stroke-width="1.7" stroke-linejoin="round"/>
<path d="M99.70,-308.14 L100.34,-307.86 L100.97,-307.03 L101.61,-305.65 L102.24,-303.72 L102.88,-301.26 L103.51,-298.27 L104.15,-294.76 L104.78,-290.76 L105.42,-286.27 L106.05,-281.32 L106.69,-275.92 L107.32,-270.09 L107.96,-263.86 L108.59,-257.25 L109.23,-250.28 L109.86,-242.97 L110.50,-235.35 L111.13,-227.45 L111.77,-219.28 L112.41,-210.87 L113.04,-202.26 L113.68,-193.45 L114.31,-184.47 L114.95,-175.35 L115.58,-166.11 L116.22,-156.77 L116.85,-147.35 L117.49,-137.86 L118.12,-128.33 L118.76,-118.78 L119.39,-109.21 L120.03,-99.65 L120.66,-90.11 L121.30,-80.61 L121.93,-71.15 L122.57,-61.75 L123.21,-52.41 L123.84,-43.16 L124.48,-33.99 L125.11,-24.92 L125.75,-15.94 L126.38,-7.08 L127.02,1.67 L127.65,10.31 L128.29,18.82 L128.92,27.20 L129.56,35.45 L130.19,43.57 L130.83,51.56 L131.46,59.41 L132.10,67.12 L132.73,74.70 L133.37,82.13 L134.00,89.43 L134.64,96.59 L135.28,103.61 L135.91,110.49 L136.55,117.23 L137.18,123.84 L137.82,130.32 L138.45,136.66 L139.09,142.87 L139.72,148.95 L140.36,154.91 L140.99,160.73 L141.63,166.43 L142.26,172.01 L142.90,177.47 L143.53,182.82 L144.17,188.04 L144.80,193.15 L145.44,198.15 L146.07,203.04 L146.71,207.83 L147.35,212.50 L147.98,217.08 L148.62,221.55 L149.25,225.93 L149.89,230.21 L150.52,234.40 L151.16,238.49 L151.79,242.49 L152.43,246.41 L153.06,250.24 L153.70,253.99 L154.33,257.65 L154.97,261.23 L155.60,264.74 L156.24,268.17 L156.87,271.52 L157.51,274.81 L158.14,278.02 L158.78,281.16 L159.42,284.24 L160.05,287.25 L160.69,290.19 L161.32,293.07 L161.96,295.90 L162.59,298.66 L163.23,301.36 L163.86,304.01 L164.50,306.60 L165.13,309.14 L165.77,311.62 L166.40,314.05 L167.04,316.44 L167.67,318.77 L168.31,321.06 L168.94,323.30 L169.58,325.49 L170.22,327.64 L170.85,329.75 L171.49,331.81 L172.12,333.84 L172.76,335.82 L173.39,337.76 L174.03,339.67 L174.66,341.54 L175.30,343.37 L175.93,345.16 L176.57,346.92 L177.20,348.65 L177.84,350.35 L178.47,352.01 L179.11,353.64 L179.74,355.24 L180.38,356.81 L181.01,358.35 L181.65,359.86 L182.29,361.34 L182.92,362.79 L183.56,364.22 L184.19,365.62 L184.83,367.00 L185.46,368.35 L186.10,369.68 L186.73,370.98 L187.37,372.26 L188.00,373.52 L188.64,374.75 L189.27,375.97 L189.91,377.16 L190.54,378.33 L191.18,379.48 L191.81,380.61 L192.45,381.72 L193.08,382.81 L193.72,383.89 L194.36,384.94 L194.99,385.98 L195.63,387.00 L196.26,388.00 L196.90,388.98 L197.53,389.95 L198.17,390.90 L198.80,391.84 L199.44,392.76 L200.07,393.67 L200.71,394.56 L201.34,395.44 L201.98,396.30 L202.61,397.15 L203.25,397.99 L203.88,398.81 L204.52,399.62 L205.15,400.42 L205.79,401.20 L206.43,401.97 L207.06,402.73 L207.70,403.48 L208.33,404.22 L208.97,404.94 L209.60,405.65 L210.24,406.36 L210.87,407.05 L211.51,407.73 L212.14,408.40 L212.78,409.07 L213.41,409.72 L214.05,410.36 L214.68,410.99 L215.32,411.62 L215.95,412.23 L216.59,412.83 L217.23,413.43 L217.86,414.02 L218.50,414.60 L219.13,415.17 L219.77,415.73 L220.40,416.29 L221.04,416.83 L221.67,417.37 L222.31,417.90 L222.94,418.43 L223.58,418.95 L224.21,419.46 L224.85,419.96 L225.48,420.45 L226.12,420.94 L226.75,421.43 L227.39,421.90 L228.02,422.37 L228.66,422.83 L229.30,423.29 L229.93,423.74 L230.57,424.19 L231.20,424.62 L231.84,425.06 L232.47,425.49 L233.11,425.91 L233.74,426.32 L234.38,426.73 L235.01,427.14 L235.65,427.54 L236.28,427.93 L236.92,428.32 L237.55,428.71 L238.19,429.09 L238.82,429.47 L239.46,429.84 L240.09,430.20 L240.73,430.56 L241.37,430.92 L242.00,431.27 L242.64,431.62 L243.27,431.96 L243.91,432.30 L244.54,432.64 L245.18,432.97 L245.81,433.30 L246.45,433.62 L247.08,433.94 L247.72,434.26 L248.35,434.57 L248.99,434.88 L249.62,435.18 L250.26,435.48 L250.89,435.78 L251.53,436.07 L252.16,436.36 L252.80,436.65 L253.44,436.93 L254.07,437.21 L254.71,437.49 L255.34,437.77 L255.98,438.04 L256.61,438.30 L257.25,438.57 L257.88,438.83 L258.52,439.09 L259.15,439.34 L259.79,439.60 L260.42,439.85 L261.06,440.10 L261.69,440.34 L262.33,440.58 L262.96,440.82 L263.60,441.06 L264.24,441.29 L264.87,441.52 L265.51,441.75 L266.14,441.98 L266.78,442.20 L267.41,442.42 L268.05,442.64 L268.68,442.86 L269.32,443.08 L269.95,443.29 L270.59,443.50 L271.22,443.71 L271.86,443.91 L272.49,444.11 L273.13,444.32 L273.76,444.52 L274.40,444.71 L275.03,444.91 L275.67,445.10 L276.31,445.29 L276.94,445.48 L277.58,445.67 L278.21,445.85 L278.85,446.04 L279.48,446.22 L280.12,446.40 L280.75,446.58 L281.39,446.75 L282.02,446.93 L282.66,447.10 L283.29,447.27 L283.93,447.44 L284.56,447.61 L285.20,447.78 L285.83,447.94 L286.47,448.10 L287.10,448.26 L287.74,448.42 L288.38,448.58 L289.01,448.74 L289.65,448.89 L290.28,449.05 L290.92,449.20 L291.55,449.35 L292.19,449.50 L292.82,449.65 L293.46,449.79 L294.09,449.94 L294.73,450.08 L295.36,450.22 L296.00,450.37 L296.63,450.51 L297.27,450.64 L297.90,450.78 L298.54,450.92 L299.17,451.05 L299.81,451.18 L300.45,451.32 L301.08,451.45 L301.72,451.58 L302.35,451.71 L302.99,451.83 L303.62,451.96 L304.26,452.09 L304.89,452.21 L305.53,452.33 L306.16,452.45 L306.80,452.58 L307.43,452.70 L308.07,452.81 L308.70,452.93 L309.34,453.05 L309.97,453.16 L310.61,453.28 L311.25,453.39 L311.88,453.50 L312.52,453.62 L313.15,453.73 L313.79,453.84 L314.42,453.94 L315.06,454.05 L315.69,454.16 L316.33,454.27 L316.96,454.37 L317.60,454.47 L318.23,454.58 L318.87,454.68 L319.50,454.78 L320.14,454.88 L320.77,454.98 L321.41,455.08 L322.04,455.18 L322.68,455.28 L323.32,455.37 L323.95,455.47 L324.59,455.57 L325.22,455.66 L325.86,455.75 L326.49,455.85 L327.13,455.94 L327.76,456.03 L328.40,456.12 L329.03,456.21 L329.67,456.30 L330.30,456.39 L330.94,456.47 L331.57,456.56 L332.21,456.65 L332.84,456.73 L333.48,456.82 L334.11,456.90 L334.75,456.99 L335.39,457.07 L336.02,457.15 L336.66,457.23 L337.29,457.31 L337.93,457.39 L338.56,457.47 L339.20,457.55 L339.83,457.63 L340.47,457.71 L341.10,457.79 L341.74,457.86 L342.37,457.94 L343.01,458.01 L343.64,458.09 L344.28,458.16 L344.91,458.24 L345.55,458.31 L346.18,458.38 L346.82,458.46 L347.46,458.53 L348.09,458.60 L348.73,458.67 L349.36,458.74 L350.00,458.81 L350.63,458.88 L351.27,458.95 L351.90,459.01 L352.54,459.08 L353.17,459.15 L353.81,459.21 L354.44,459.28 L355.08,459.35 L355.71,459.41 L356.35,459.48 L356.98,459.54 L357.62,459.60 L358.26,459.67 L358.89,459.73 L359.53,459.79 L360.16,459.85 L360.80,459.91 L361.43,459.98 L362.07,460.04 L362.70,460.10 L363.34,460.16 L363.97,460.21 L364.61,460.27 L365.24,460.33 L365.88,460.39 L366.51,460.45 L367.15,460.50 L367.78,460.56 L368.42,460.62 L369.05,460.67 L369.69,460.73 L370.33,460.78 L370.96,460.84 L371.60,460.89 L372.23,460.95 L372.87,461.00 L373.50,461.06 L374.14,461.11 L374.77,461.16 L375.41,461.21 L376.04,461.27 L376.68,461.32 L377.31,461.37 L377.95,461.42 L378.58,461.47 L379.22,461.52 L379.85,461.57 L380.49,461.62 L381.12,461.67 L381.76,461.72 L382.40,461.77 L383.03,461.81 L383.67,461.86 L384.30,461.91 L384.94,461.96 L385.57,462.00 L386.21,462.05 L386.84,462.10 L387.48,462.14 L388.11,462.19 L388.75,462.23 L389.38,462.28 L390.02,462.32 L390.65,462.37 L391.29,462.41 L391.92,462.46 L392.56,462.50 L393.19,462.55 L393.83,462.59 L394.47,462.63 L395.10,462.67 L395.74,462.72 L396.37,462.76 L397.01,462.80 L397.64,462.84 L398.28,462.88 L398.91,462.92 L399.55,462.97 L400.18,463.01 L400.82,463.05 L401.45,463.09 L402.09,463.13 L402.72,463.17 L403.36,463.20 L403.99,463.24 L404.63,463.28 L405.27,463.32 L405.90,463.36 L406.54,463.40 L407.17,463.44 L407.81,463.47 L408.44,463.51 L409.08,463.55 L409.71,463.59 L410.35,463.62 L410.98,463.66 L411.62,463.69 L412.25,463.73 L412.89,463.77 L413.52,463.80 L414.16,463.84 L414.79,463.87 L415.43,463.91 L416.06,463.94 L416.70,463.98" fill="none" stroke="#ff00ff" stroke-width="1.7" stroke-linejoin="round"/>
<path d="M99.70,-1196.04 L100.34,-1194.74 L100.97,-1190.85 L101.61,-1184.41 L102.24,-1175.48 L102.88,-1164.13 L103.51,-1150.47 L104.15,-1134.62 L104.78,-1116.72 L105.42,-1096.90 L106.05,-1075.32 L106.69,-1052.16 L107.32,-1027.57 L107.96,-1001.73 L108.59,-974.80 L109.23,-946.95 L109.86,-918.34 L110.50,-889.13 L111.13,-859.46 L111.77,-829.46 L112.41,-799.28 L113.04,-769.02 L113.68,-738.79 L114.31,-708.69 L114.95,-678.81 L115.58,-649.23 L116.22,-620.02 L116.85,-591.22 L117.49,-562.91 L118.12,-535.11 L118.76,-507.86 L119.39,-481.20 L120.03,-455.14 L120.66,-429.71 L121.30,-404.92 L121.93,-380.77 L122.57,-357.27 L123.21,-334.42 L123.84,-312.22 L124.48,-290.66 L125.11,-269.74 L125.75,-249.44 L126.38,-229.77 L127.02,-210.70 L127.65,-192.23 L128.29,-174.34 L128.92,-157.01 L129.56,-140.24 L130.19,-124.01 L130.83,-108.29 L131.46,-93.09 L132.10,-78.38 L132.73,-64.14 L133.37,-50.36 L134.00,-37.03 L134.64,-24.14 L135.28,-11.66 L135.91,0.42 L136.55,12.11 L137.18,23.42 L137.82,34.37 L138.45,44.97 L139.09,55.23 L139.72,65.17 L140.36,74.79 L140.99,84.11 L141.63,93.13 L142.26,101.88 L142.90,110.35 L143.53,118.57 L144.17,126.53 L144.80,134.24 L145.44,141.73 L146.07,148.99 L146.71,156.03 L147.35,162.86 L147.98,169.48 L148.62,175.91 L149.25,182.16 L149.89,188.22 L150.52,194.11 L151.16,199.82 L151.79,205.38 L152.43,210.77 L153.06,216.02 L153.70,221.12 L154.33,226.07 L154.97,230.89 L155.60,235.58 L156.24,240.14 L156.87,244.57 L157.51,248.89 L158.14,253.09 L158.78,257.18 L159.42,261.16 L160.05,265.04 L160.69,268.82 L161.32,272.50 L161.96,276.08 L162.59,279.57 L163.23,282.98 L163.86,286.30 L164.50,289.54 L165.13,292.69 L165.77,295.77 L166.40,298.77 L167.04,301.70 L167.67,304.56 L168.31,307.36 L168.94,310.08 L169.58,312.74 L170.22,315.34 L170.85,317.88 L171.49,320.35 L172.12,322.77 L172.76,325.14 L173.39,327.45 L174.03,329.71 L174.66,331.92 L175.30,334.08 L175.93,336.19 L176.57,338.26 L177.20,340.28 L177.84,342.25 L178.47,344.18 L179.11,346.08 L179.74,347.93 L180.38,349.74 L181.01,351.51 L181.65,353.25 L182.29,354.95 L182.92,356.62 L183.56,358.25 L184.19,359.85 L184.83,361.41 L185.46,362.94 L186.10,364.45 L186.73,365.92 L187.37,367.36 L188.00,368.78 L188.64,370.17 L189.27,371.53 L189.91,372.86 L190.54,374.17 L191.18,375.45 L191.81,376.71 L192.45,377.95 L193.08,379.16 L193.72,380.35 L194.36,381.52 L194.99,382.66 L195.63,383.79 L196.26,384.89 L196.90,385.97 L197.53,387.04 L198.17,388.08 L198.80,389.11 L199.44,390.12 L200.07,391.11 L200.71,392.08 L201.34,393.04 L201.98,393.98 L202.61,394.90 L203.25,395.81 L203.88,396.70 L204.52,397.57 L205.15,398.44 L205.79,399.28 L206.43,400.11 L207.06,400.93 L207.70,401.74 L208.33,402.53 L208.97,403.31 L209.60,404.08 L210.24,404.83 L210.87,405.57 L211.51,406.30 L212.14,407.02 L212.78,407.73 L213.41,408.42 L214.05,409.11 L214.68,409.78 L215.32,410.44 L215.95,411.10 L216.59,411.74 L217.23,412.37 L217.86,412.99 L218.50,413.61 L219.13,414.21 L219.77,414.81 L220.40,415.39 L221.04,415.97 L221.67,416.54 L222.31,417.10 L222.94,417.65 L223.58,418.20 L224.21,418.73 L224.85,419.26 L225.48,419.78 L226.12,420.30 L226.75,420.80 L227.39,421.30 L228.02,421.79 L228.66,422.28 L229.30,422.75 L229.93,423.22 L230.57,423.69 L231.20,424.15 L231.84,424.60 L232.47,425.04 L233.11,425.48 L233.74,425.92 L234.38,426.34 L235.01,426.77 L235.65,427.18 L236.28,427.59 L236.92,428.00 L237.55,428.40 L238.19,428.79 L238.82,429.18 L239.46,429.56 L240.09,429.94 L240.73,430.32 L241.37,430.69 L242.00,431.05 L242.64,431.41 L243.27,431.77 L243.91,432.12 L244.54,432.46 L245.18,432.80 L245.81,433.14 L246.45,433.47 L247.08,433.80 L247.72,434.13 L248.35,434.45 L248.99,434.77 L249.62,435.08 L250.26,435.39 L250.89,435.69 L251.53,436.00 L252.16,436.29 L252.80,436.59 L253.44,436.88 L254.07,437.17 L254.71,437.45 L255.34,437.73 L255.98,438.01 L256.61,438.28 L257.25,438.55 L257.88,438.82 L258.52,439.08 L259.15,439.35 L259.79,439.60 L260.42,439.86 L261.06,440.11 L261.69,440.36 L262.33,440.61 L262.96,440.85 L263.60,441.09 L264.24,441.33 L264.87,441.57 L265.51,441.80 L266.14,442.03 L266.78,442.26 L267.41,442.49 L268.05,442.71 L268.68,442.93 L269.32,443.15 L269.95,443.36 L270.59,443.58 L271.22,443.79 L271.86,444.00 L272.49,444.20 L273.13,444.41 L273.76,444.61 L274.40,444.81 L275.03,445.01 L275.67,445.20 L276.31,445.40 L276.94,445.59 L277.58,445.78 L278.21,445.97 L278.85,446.15 L279.48,446.34 L280.12,446.52 L280.75,446.70 L281.39,446.88 L282.02,447.05 L282.66,447.23 L283.29,447.40 L283.93,447.57 L284.56,447.74 L285.20,447.91 L285.83,448.07 L286.47,448.24 L287.10,448.40 L287.74,448.56 L288.38,448.72 L289.01,448.88 L289.65,449.04 L290.28,449.19 L290.92,449.34 L291.55,449.50 L292.19,449.65 L292.82,449.80 L293.46,449.94 L294.09,450.09 L294.73,450.23 L295.36,450.38 L296.00,450.52 L296.63,450.66 L297.27,450.80 L297.90,450.94 L298.54,451.07 L299.17,451.21 L299.81,451.34 L300.45,451.48 L301.08,451.61 L301.72,451.74 L302.35,451.87 L302.99,451.99 L303.62,452.12 L304.26,452.25 L304.89,452.37 L305.53,452.49 L306.16,452.62 L306.80,452.74 L307.43,452.86 L308.07,452.98 L308.70,453.10 L309.34,453.21 L309.97,453.33 L310.61,453.44 L311.25,453.56 L311.88,453.67 L312.52,453.78 L313.15,453.89 L313.79,454.00 L314.42,454.11 L315.06,454.22 L315.69,454.33 L316.33,454.43 L316.96,454.54 L317.60,454.64 L318.23,454.74 L318.87,454.85 L319.50,454.95 L320.14,455.05 L320.77,455.15 L321.41,455.25 L322.04,455.35 L322.68,455.44 L323.32,455.54 L323.95,455.64 L324.59,455.73 L325.22,455.82 L325.86,455.92 L326.49,456.01 L327.13,456.10 L327.76,456.19 L328.40,456.28 L329.03,456.37 L329.67,456.46 L330.30,456.55 L330.94,456.64 L331.57,456.72 L332.21,456.81 L332.84,456.90 L333.48,456.98 L334.11,457.06 L334.75,457.15 L335.39,457.23 L336.02,457.31 L336.66,457.39 L337.29,457.47 L337.93,457.55 L338.56,457.63 L339.20,457.71 L339.83,457.79 L340.47,457.87 L341.10,457.94 L341.74,458.02 L342.37,458.10 L343.01,458.17 L343.64,458.25 L344.28,458.32 L344.91,458.39 L345.55,458.47 L346.18,458.54 L346.82,458.61 L347.46,458.68 L348.09,458.75 L348.73,458.82 L349.36,458.89 L350.00,458.96 L350.63,459.03 L351.27,459.10 L351.90,459.16 L352.54,459.23 L353.17,459.30 L353.81,459.36 L354.44,459.43 L355.08,459.50 L355.71,459.56 L356.35,459.62 L356.98,459.69 L357.62,459.75 L358.26,459.81 L358.89,459.88 L359.53,459.94 L360.16,460.00 L360.80,460.06 L361.43,460.12 L362.07,460.18 L362.70,460.24 L363.34,460.30 L363.97,460.36 L364.61,460.42 L365.24,460.47 L365.88,460.53 L366.51,460.59 L367.15,460.65 L367.78,460.70 L368.42,460.76 L369.05,460.81 L369.69,460.87 L370.33,460.92 L370.96,460.98 L371.60,461.03 L372.23,461.09 L372.87,461.14 L373.50,461.19 L374.14,461.24 L374.77,461.30 L375.41,461.35 L376.04,461.40 L376.68,461.45 L377.31,461.50 L377.95,461.55 L378.58,461.60 L379.22,461.65 L379.85,461.70 L380.49,461.75 L381.12,461.80 L381.76,461.85 L382.40,461.90 L383.03,461.94 L383.67,461.99 L384.30,462.04 L384.94,462.08 L385.57,462.13 L386.21,462.18 L386.84,462.22 L387.48,462.27 L388.11,462.31 L388.75,462.36 L389.38,462.40 L390.02,462.45 L390.65,462.49 L391.29,462.54 L391.92,462.58 L392.56,462.62 L393.19,462.67 L393.83,462.71 L394.47,462.75 L395.10,462.79 L395.74,462.84 L396.37,462.88 L397.01,462.92 L397.64,462.96 L398.28,463.00 L398.91,463.04 L399.55,463.08 L400.18,463.12 L400.82,463.16 L401.45,463.20 L402.09,463.24 L402.72,463.28 L403.36,463.32 L403.99,463.36 L404.63,463.40 L405.27,463.43 L405.90,463.47 L406.54,463.51 L407.17,463.55 L407.81,463.58 L408.44,463.62 L409.08,463.66 L409.71,463.69 L410.35,463.73 L410.98,463.77 L411.62,463.80 L412.25,463.84 L412.89,463.87 L413.52,463.91 L414.16,463.94 L414.79,463.98 L415.43,464.01 L416.06,464.05 L416.70,464.08" fill="none" stroke="#808000" stroke-width="1.7" stroke-linejoin="round"/>
</g>
<g style="opacity:0.999">
<text class="tk" transform="translate(90.4,477.80) scale(1.0,1.14)" text-anchor="end">0</text>
<text class="tk" transform="translate(90.4,384.53) scale(1.0,1.14)" text-anchor="end">4</text>
<text class="tk" transform="translate(90.4,291.27) scale(1.0,1.14)" text-anchor="end">8</text>
<text class="tk" transform="translate(90.4,198.00) scale(0.95,1.14)" text-anchor="end">12</text>
<text class="tk" transform="translate(99.80,495.6) scale(1,1.14)" text-anchor="middle">0.0</text>
<text class="tk" transform="translate(163.10,495.6) scale(1,1.14)" text-anchor="middle">0.2</text>
<text class="tk" transform="translate(226.40,495.6) scale(1,1.14)" text-anchor="middle">0.4</text>
<text class="tk" transform="translate(289.70,495.6) scale(1,1.14)" text-anchor="middle">0.6</text>
<text class="tk" transform="translate(353.00,495.6) scale(1,1.14)" text-anchor="middle">0.8</text>
<text class="tk" transform="translate(416.30,495.6) scale(1,1.14)" text-anchor="middle">1.0</text>
<text class="it" x="289.2" y="513.0" font-size="22.5" text-anchor="middle">q</text>
<g transform="translate(63.8,373.8) rotate(-90)" class="it">
<text x="0" y="0" font-size="22.5">S</text>
<text x="11.0" y="-12.2" font-size="15.3" letter-spacing="0.4">ss</text>
<text x="12.3" y="8.7" font-size="15.3">4</text>
<text x="22.4" y="0" font-size="22.5">(</text>
<text x="30.2" y="0" font-size="22.5">q</text>
<text x="42.0" y="0" font-size="22.5">,</text>
<text x="49.2" y="0" font-size="22.5">τ</text>
<text x="57.1" y="9.1" font-size="13.5">χ</text>
<text x="62.6" y="0" font-size="22.5">)</text>
</g>
</g>
<rect x="373.0" y="197.4" width="60" height="133.5" fill="#fff" stroke="#000" stroke-width="1"/>
<rect x="389.50" y="204.90" width="10.8" height="10.8" fill="#000000"/>
<circle cx="394.90" cy="232.40" r="6.0" fill="#ff0000"/>
<polygon points="394.90,246.20 387.50,259.00 402.30,259.00" fill="#0000ff"/>
<polygon points="394.90,285.00 387.50,272.20 402.30,272.20" fill="#008080"/>
<polygon points="386.40,298.90 399.20,291.50 399.20,306.30" fill="#ff00ff"/>
<polygon points="403.40,321.20 390.60,313.80 390.60,328.60" fill="#808000"/>
</svg></body></html>
